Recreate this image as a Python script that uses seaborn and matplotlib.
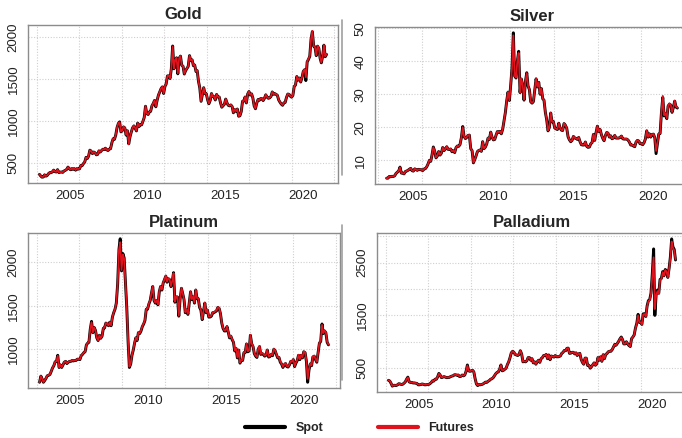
import numpy as np
import pandas as pd
import matplotlib
matplotlib.use("Agg")
import matplotlib.pyplot as plt
import seaborn as sns
from matplotlib.lines import Line2D

# ---------------- data (monthly) ----------------
gold_start = "2003-01-01"
gold_spot = [
    367, 347, 334, 336, 361, 346, 354, 375, 388, 386, 398, 417,
    399, 395, 423, 388, 393, 395, 391, 407, 415, 425, 453, 435,
    422, 435, 427, 435, 417, 435, 429, 433, 473, 470, 495, 513,
    569, 556, 582, 654, 643, 613, 632, 623, 599, 604, 646, 632,
    650, 665, 661, 677, 659, 650, 666, 672, 743, 789, 783, 834,
    923, 971, 990, 871, 885, 930, 918, 833, 884, 730, 814, 870,
    919, 942, 916, 883, 975, 934, 955, 955, 996, 1040, 1175, 1087,
    1078, 1109, 1115, 1180, 1207, 1244, 1169, 1246, 1307, 1346, 1383, 1405,
    1327, 1411, 1439, 1535, 1536, 1505, 1620, 1890, 1620, 1722, 1750, 1560,
    1744, 1770, 1662, 1651, 1558, 1598, 1622, 1648, 1776, 1719, 1726, 1657,
    1664, 1588, 1598, 1469, 1394, 1234, 1314, 1395, 1326, 1324, 1253, 1205,
    1244, 1326, 1291, 1288, 1250, 1315, 1285, 1285, 1216, 1164, 1182, 1199,
    1260, 1214, 1187, 1180, 1191, 1172, 1098, 1135, 1115, 1142, 1057, 1062,
    1111, 1234, 1237, 1285, 1215, 1320, 1350, 1309, 1322, 1272, 1178, 1146,
    1212, 1255, 1245, 1266, 1266, 1243, 1269, 1311, 1283, 1270, 1275, 1291,
    1345, 1317, 1325, 1316, 1305, 1250, 1224, 1201, 1187, 1215, 1221, 1279,
    1320, 1316, 1295, 1283, 1305, 1409, 1427, 1528, 1485, 1510, 1463, 1515,
    1589, 1609, 1480, 1702, 1730, 1768, 1971, 2060, 1887, 1879, 1776, 1888,
    1863, 1743, 1691, 1768, 1900, 1763, 1790,
]
gold_fut = [
    368, 348, 335, 337, 362, 347, 355, 376, 389, 387, 399, 418,
    400, 396, 424, 389, 394, 396, 392, 408, 416, 426, 454, 436,
    423, 436, 428, 436, 418, 436, 430, 434, 474, 471, 496, 514,
    570, 557, 583, 655, 645, 614, 633, 624, 600, 605, 647, 633,
    651, 666, 662, 678, 660, 651, 667, 673, 745, 791, 785, 836,
    925, 973, 985, 873, 887, 932, 920, 835, 886, 725, 816, 872,
    921, 944, 918, 885, 977, 936, 957, 957, 998, 1042, 1177, 1089,
    1080, 1111, 1117, 1182, 1209, 1246, 1171, 1248, 1309, 1348, 1385, 1407,
    1329, 1413, 1441, 1537, 1538, 1507, 1625, 1885, 1625, 1724, 1752, 1565,
    1746, 1772, 1664, 1653, 1560, 1600, 1624, 1650, 1778, 1721, 1728, 1659,
    1666, 1590, 1600, 1471, 1396, 1236, 1316, 1397, 1328, 1326, 1255, 1207,
    1246, 1328, 1293, 1290, 1252, 1317, 1287, 1287, 1218, 1166, 1184, 1201,
    1262, 1216, 1189, 1182, 1193, 1174, 1100, 1137, 1117, 1144, 1059, 1064,
    1113, 1236, 1239, 1287, 1217, 1322, 1352, 1311, 1324, 1274, 1180, 1148,
    1214, 1257, 1247, 1268, 1268, 1245, 1271, 1313, 1285, 1272, 1277, 1293,
    1347, 1319, 1327, 1318, 1307, 1252, 1226, 1203, 1189, 1217, 1223, 1281,
    1322, 1318, 1297, 1285, 1307, 1411, 1429, 1530, 1487, 1512, 1465, 1517,
    1592, 1612, 1520, 1710, 1735, 1772, 1975, 2070, 1890, 1882, 1780, 1890,
    1866, 1746, 1694, 1770, 1902, 1766, 1795,
]

silver_start = "2003-05-01"
silver_spot = [
    4.55, 4.56, 5.08, 4.96, 5.12, 5.06, 5.30, 5.97,
    6.35, 6.77, 7.90, 6.10, 6.06, 5.85, 6.57, 6.72, 6.95, 7.27, 7.52, 6.82,
    6.70, 7.38, 7.17, 6.92, 7.22, 7.12, 7.13, 6.84, 7.33, 7.43, 7.97, 8.83,
    9.94, 9.67, 11.51, 14.00, 12.80, 10.70, 11.24, 12.61, 11.55, 12.10, 13.84, 12.90,
    13.42, 14.08, 13.30, 13.26, 13.40, 12.56, 12.86, 12.30, 13.81, 14.30, 14.21, 14.76,
    16.84, 20.20, 17.24, 16.57, 16.89, 17.49, 17.60, 13.50, 12.90, 9.20, 10.20, 11.30,
    12.60, 12.95, 13.10, 12.68, 15.61, 13.50, 13.95, 14.90, 16.70, 16.27, 18.50, 16.99,
    16.15, 16.30, 17.50, 18.66, 18.45, 18.74, 17.99, 19.40, 21.99, 24.44, 28.02, 30.63,
    28.10, 32.95, 37.87, 48.60, 35.50, 34.90, 39.90, 43.00, 30.50, 34.60, 32.60, 28.20,
    33.80, 36.50, 32.50, 31.40, 27.70, 27.30, 27.75, 31.30, 34.65, 32.20, 33.60, 30.00,
    31.70, 28.60, 28.20, 24.50, 22.30, 18.90, 19.90, 24.30, 21.60, 21.70, 19.75, 19.50,
    19.30, 21.20, 19.80, 19.10, 19.00, 21.10, 20.60, 19.70, 17.10, 16.20, 15.60, 16.00,
    17.20, 16.70, 16.60, 16.30, 16.90, 15.60, 14.70, 14.60, 14.60, 15.50, 14.20, 13.90,
    14.00, 15.00, 15.30, 17.80, 16.00, 18.40, 20.30, 18.70, 19.30, 17.70, 16.60, 15.90,
    17.50, 18.40, 18.20, 17.00, 17.40, 16.50, 16.70, 17.50, 16.70, 16.70, 16.70, 16.90,
    17.30, 16.50, 16.40, 16.40, 16.40, 16.10, 15.50, 14.60, 14.60, 14.30, 14.10, 15.50,
    16.00, 15.80, 15.00, 15.00, 14.70, 15.30, 16.40, 18.90, 17.00, 18.00, 17.00, 17.80,
    17.90, 16.80, 12.00, 15.00, 17.90, 18.10, 24.30, 29.00, 23.40, 24.20, 22.60, 26.40,
    27.00, 26.70, 24.50, 26.00, 27.90, 26.10, 25.80,
]
silver_fut = [
    4.57, 4.58, 5.10, 4.98, 5.14, 5.08, 5.32, 5.99,
    6.37, 6.79, 7.85, 6.12, 6.08, 5.87, 6.59, 6.74, 6.97, 7.29, 7.54, 6.84,
    6.72, 7.40, 7.19, 6.94, 7.24, 7.14, 7.15, 6.86, 7.35, 7.45, 7.99, 8.85,
    9.96, 9.70, 11.55, 13.90, 12.85, 10.75, 11.28, 12.65, 11.60, 12.15, 13.88, 12.95,
    13.46, 14.12, 13.35, 13.30, 13.45, 12.60, 12.90, 12.35, 13.85, 14.35, 14.25, 14.80,
    16.90, 20.00, 17.30, 16.60, 16.95, 17.55, 17.65, 13.55, 12.95, 9.30, 10.25, 11.35,
    12.65, 13.00, 13.15, 12.72, 15.65, 13.55, 14.00, 14.95, 16.75, 16.32, 18.55, 17.04,
    16.20, 16.35, 17.55, 18.70, 18.50, 18.80, 18.05, 19.45, 22.05, 24.50, 28.10, 30.70,
    28.15, 33.00, 37.90, 47.80, 35.60, 35.00, 40.00, 42.50, 30.60, 34.70, 32.70, 28.30,
    33.85, 36.40, 32.55, 31.45, 27.75, 27.35, 27.80, 31.35, 34.70, 32.25, 33.65, 30.05,
    31.75, 28.65, 28.25, 24.55, 22.35, 19.00, 19.95, 24.35, 21.65, 21.75, 19.80, 19.55,
    19.35, 21.25, 19.85, 19.15, 19.05, 21.15, 20.65, 19.75, 17.15, 16.25, 15.65, 16.05,
    17.25, 16.75, 16.65, 16.35, 16.95, 15.65, 14.75, 14.65, 14.65, 15.55, 14.25, 13.95,
    14.05, 15.05, 15.35, 17.85, 16.05, 18.45, 20.35, 18.75, 19.35, 17.75, 16.65, 15.95,
    17.55, 18.45, 18.25, 17.05, 17.45, 16.55, 16.75, 17.55, 16.75, 16.75, 16.75, 16.95,
    17.35, 16.55, 16.45, 16.45, 16.45, 16.15, 15.55, 14.65, 14.65, 14.35, 14.15, 15.55,
    16.05, 15.85, 15.05, 15.05, 14.75, 15.35, 16.45, 18.95, 17.05, 18.05, 17.05, 17.85,
    17.95, 16.85, 12.80, 15.10, 17.95, 18.15, 24.50, 29.50, 23.60, 24.30, 22.70, 26.50,
    27.20, 26.80, 24.60, 26.10, 28.00, 26.20, 25.90,
]

plat_start = "2003-01-01"
plat_spot = [
    620, 690, 660, 620, 640, 665, 695, 700, 710, 745, 785, 810,
    855, 860, 930, 790, 820, 790, 820, 850, 860, 835, 850, 860,
    860, 870, 865, 870, 870, 885, 885, 880, 925, 940, 960, 970,
    1050, 1070, 1080, 1230, 1320, 1190, 1250, 1215, 1130, 1100, 1160, 1125,
    1150, 1240, 1245, 1300, 1290, 1270, 1310, 1270, 1370, 1420, 1460, 1530,
    1750, 2150, 2270, 1900, 2100, 2050, 1770, 1480, 1090, 790, 830, 930,
    990, 1070, 1130, 1100, 1190, 1180, 1210, 1260, 1290, 1330, 1460, 1460,
    1520, 1560, 1640, 1720, 1560, 1530, 1560, 1510, 1660, 1720, 1680, 1760,
    1800, 1840, 1770, 1810, 1800, 1720, 1780, 1880, 1540, 1600, 1600, 1380,
    1580, 1700, 1640, 1570, 1420, 1450, 1400, 1530, 1660, 1570, 1600, 1530,
    1680, 1580, 1580, 1480, 1450, 1340, 1430, 1530, 1420, 1450, 1370, 1370,
    1380, 1420, 1420, 1430, 1440, 1480, 1470, 1410, 1300, 1240, 1210, 1210,
    1260, 1190, 1130, 1150, 1110, 1080, 980, 1010, 900, 990, 840, 870,
    870, 960, 960, 1060, 970, 980, 1160, 1060, 1030, 950, 920, 905,
    1000, 1030, 940, 950, 940, 920, 930, 990, 910, 915, 940, 925,
    1000, 980, 940, 900, 905, 850, 830, 790, 820, 835, 800, 795,
    820, 860, 850, 880, 800, 840, 870, 930, 880, 930, 900, 970,
    960, 860, 620, 760, 830, 810, 910, 920, 880, 850, 960, 1070,
    1090, 1290, 1180, 1210, 1190, 1080, 1050,
]
plat_fut = [
    622, 692, 662, 622, 642, 667, 697, 702, 712, 747, 787, 812,
    857, 862, 925, 792, 822, 792, 822, 852, 862, 837, 852, 862,
    862, 872, 867, 872, 872, 887, 887, 882, 927, 942, 962, 972,
    1052, 1072, 1082, 1232, 1310, 1192, 1252, 1217, 1132, 1102, 1162, 1127,
    1152, 1242, 1247, 1302, 1292, 1272, 1312, 1272, 1372, 1422, 1462, 1532,
    1752, 2140, 2230, 1910, 2090, 2040, 1775, 1485, 1095, 800, 835, 935,
    995, 1075, 1135, 1105, 1195, 1185, 1215, 1265, 1295, 1335, 1465, 1465,
    1525, 1565, 1645, 1725, 1565, 1535, 1565, 1515, 1665, 1725, 1685, 1765,
    1805, 1845, 1775, 1815, 1805, 1725, 1785, 1875, 1545, 1605, 1605, 1385,
    1585, 1705, 1645, 1575, 1425, 1455, 1405, 1535, 1665, 1575, 1605, 1535,
    1685, 1585, 1585, 1485, 1455, 1345, 1435, 1535, 1425, 1455, 1375, 1375,
    1385, 1425, 1425, 1435, 1445, 1485, 1475, 1415, 1305, 1245, 1215, 1215,
    1265, 1195, 1135, 1155, 1115, 1085, 985, 1015, 905, 995, 845, 875,
    875, 965, 965, 1065, 975, 985, 1165, 1065, 1035, 955, 925, 910,
    1005, 1035, 945, 955, 945, 925, 935, 995, 915, 920, 945, 930,
    1005, 985, 945, 905, 910, 855, 835, 795, 825, 840, 805, 800,
    825, 865, 855, 885, 805, 845, 875, 935, 885, 935, 905, 975,
    965, 865, 660, 770, 835, 815, 915, 925, 885, 855, 965, 1075,
    1095, 1280, 1185, 1215, 1195, 1085, 1055,
]

pall_start = "2003-01-01"
pall_spot = [
    270, 255, 215, 160, 175, 175, 170, 185, 205, 200, 190, 195,
    215, 240, 290, 330, 240, 230, 230, 220, 220, 215, 210, 185,
    185, 190, 200, 195, 185, 185, 190, 190, 205, 225, 260, 255,
    290, 290, 330, 400, 370, 320, 330, 340, 330, 320, 325, 325,
    340, 350, 355, 375, 375, 365, 370, 340, 345, 370, 355, 370,
    440, 560, 450, 440, 450, 460, 430, 300, 200, 170, 190, 185,
    190, 200, 215, 235, 230, 250, 265, 290, 300, 320, 360, 395,
    420, 430, 480, 560, 450, 460, 480, 500, 570, 620, 700, 790,
    820, 800, 760, 750, 740, 760, 830, 770, 620, 630, 620, 640,
    700, 700, 650, 680, 600, 620, 575, 620, 650, 610, 680, 700,
    740, 740, 760, 680, 750, 660, 730, 720, 710, 740, 720, 715,
    720, 735, 780, 800, 835, 830, 875, 880, 780, 785, 800, 800,
    770, 790, 740, 770, 780, 670, 610, 575, 690, 690, 550, 555,
    500, 530, 565, 600, 555, 580, 700, 650, 715, 630, 755, 680,
    760, 780, 810, 820, 820, 850, 900, 950, 935, 970, 1010, 1055,
    1090, 1040, 960, 960, 1000, 960, 930, 910, 1060, 1090, 1130, 1260,
    1350, 1520, 1370, 1370, 1330, 1530, 1530, 1480, 1680, 1780, 1800, 1920,
    2290, 2760, 1500, 1900, 1980, 1920, 2180, 2200, 2330, 2250, 2370, 2340,
    2220, 2400, 2600, 2950, 2800, 2750, 2550,
]
pall_fut = [
    272, 257, 217, 162, 177, 177, 172, 187, 207, 202, 192, 197,
    217, 242, 292, 325, 242, 232, 232, 222, 222, 217, 212, 187,
    187, 192, 202, 197, 187, 187, 192, 192, 207, 227, 262, 257,
    292, 292, 332, 395, 372, 322, 332, 342, 332, 322, 327, 327,
    342, 352, 357, 377, 377, 367, 372, 342, 347, 372, 357, 372,
    442, 550, 452, 442, 452, 462, 432, 302, 202, 175, 192, 187,
    192, 202, 217, 237, 232, 252, 267, 292, 302, 322, 362, 397,
    422, 432, 482, 560, 452, 462, 482, 502, 572, 622, 702, 792,
    820, 802, 762, 752, 742, 762, 830, 772, 622, 632, 622, 642,
    702, 702, 652, 682, 602, 622, 577, 622, 652, 612, 682, 702,
    742, 742, 762, 682, 752, 662, 732, 722, 712, 742, 722, 717,
    722, 737, 782, 802, 837, 832, 877, 880, 782, 787, 802, 802,
    772, 792, 742, 772, 782, 672, 612, 577, 692, 692, 552, 557,
    505, 532, 567, 602, 557, 582, 702, 652, 717, 632, 757, 682,
    762, 782, 812, 822, 822, 852, 902, 950, 937, 972, 1010, 1055,
    1085, 1040, 962, 962, 1000, 962, 932, 912, 1060, 1090, 1130, 1255,
    1340, 1500, 1370, 1370, 1330, 1520, 1525, 1480, 1670, 1770, 1790, 1900,
    2240, 2600, 1620, 1880, 1960, 1910, 2170, 2190, 2320, 2250, 2360, 2330,
    2220, 2390, 2580, 2900, 2780, 2730, 2560,
]

titles = ["Gold", "Silver", "Platinum", "Palladium"]
year_ticks = [2005, 2010, 2015, 2020]
gold_yticks = [500, 1000, 1500, 2000]
silver_yticks = [10, 20, 30, 40, 50]
plat_yticks = [1000, 1500, 2000]
pall_yticks = [500, 1000, 1500, 2000, 2500, 3000]
pall_ylabels = ["500", "", "1500", "", "2500", ""]
legend_labels = ["Spot", "Futures"]

# ---------------- style ----------------
sns.set_style("white")
plt.rcParams["font.family"] = ["Liberation Sans", "DejaVu Sans"]

W, H = 682, 438
fig = plt.figure(figsize=(W / 100, H / 100), dpi=100)

SPOT_C = "black"
FUT_C = "#e0121c"
GRID_C = "#cfcfcf"
FRAME_C = "#8c8c8c"


def to_decimal_years(start, n):
    d = pd.date_range(start, periods=n, freq="MS") + pd.Timedelta(days=14)
    return np.asarray(d.year + (d.dayofyear - 1) / 365.25, dtype=float)


def box(l, t, r, b):
    return [l / W, 1 - b / H, (r - l) / W, (b - t) / H]


# grid positions like R's day-index pretty ticks (every 1000 days)
grid_days = np.arange(12000, 20000, 1000)
grid_x = 1970 + grid_days / 365.25


def panel(rect, title, start, spot, fut, yticks, ylabels=None):
    ax = fig.add_axes(rect)
    x = to_decimal_years(start, len(spot))
    df = pd.DataFrame({"date": x, "Spot": spot, "Futures": fut})
    sns.lineplot(data=df, x="date", y="Spot", ax=ax, color=SPOT_C, lw=2.1)
    sns.lineplot(data=df, x="date", y="Futures", ax=ax, color=FUT_C, lw=1.3)
    lo, hi = x.min(), x.max()
    px = 0.04 * (hi - lo)
    ax.set_xlim(lo - px, hi + px)
    ymin = min(min(spot), min(fut))
    ymax = max(max(spot), max(fut))
    py = 0.04 * (ymax - ymin)
    ax.set_ylim(ymin - py, ymax + py)
    ax.set_autoscale_on(False)
    for gx in grid_x:
        ax.axvline(gx, color=GRID_C, ls=(0, (1, 1.5)), lw=0.8, zorder=0)
    for gy in yticks:
        ax.axhline(gy, color=GRID_C, ls=(0, (1, 1.5)), lw=0.8, zorder=0)
    ax.set_xticks(year_ticks)
    ax.set_xticklabels([str(y) for y in year_ticks])
    ax.set_yticks(yticks)
    ax.set_yticklabels(ylabels if ylabels is not None else [str(v) for v in yticks],
                       rotation=90, va="center")
    ax.set_xlabel("")
    ax.set_ylabel("")
    ax.tick_params(axis="both", length=3, width=0.8, color=FRAME_C,
                   labelsize=9.5, labelcolor="#222222", direction="out")
    ax.tick_params(axis="x", pad=2)
    ax.tick_params(axis="y", pad=3)
    for s in ax.spines.values():
        s.set_color(FRAME_C)
        s.set_linewidth(1.0)
        s.set_visible(True)
    ax.set_title(title, fontsize=12, fontweight="bold", pad=4)
    return ax


panel(box(28, 25, 338, 183), titles[0], gold_start, gold_spot, gold_fut, gold_yticks)
panel(box(375, 27, 689, 184), titles[1], silver_start, silver_spot, silver_fut, silver_yticks)
panel(box(28, 233, 340, 388), titles[2], plat_start, plat_spot, plat_fut, plat_yticks)
panel(box(377, 233, 687, 392), titles[3], pall_start, pall_spot, pall_fut,
      pall_yticks, pall_ylabels)

# thin separators seen between the panels
for (y0, y1) in [(20, 175), (225, 380)]:
    fig.add_artist(Line2D([341.5 / W, 341.5 / W], [1 - y0 / H, 1 - y1 / H],
                          transform=fig.transFigure, color="#a0a0a0", lw=1.2))

handles = [Line2D([], [], color=SPOT_C, lw=3), Line2D([], [], color=FUT_C, lw=3)]
fig.legend(handles, legend_labels, loc="center", bbox_to_anchor=(0.527, 1 - 428 / H),
           ncol=2, frameon=False, prop={"weight": "bold", "size": 9},
           handlelength=3.2, columnspacing=4.4, handletextpad=0.8)

fig.savefig("out.png", dpi=100)
